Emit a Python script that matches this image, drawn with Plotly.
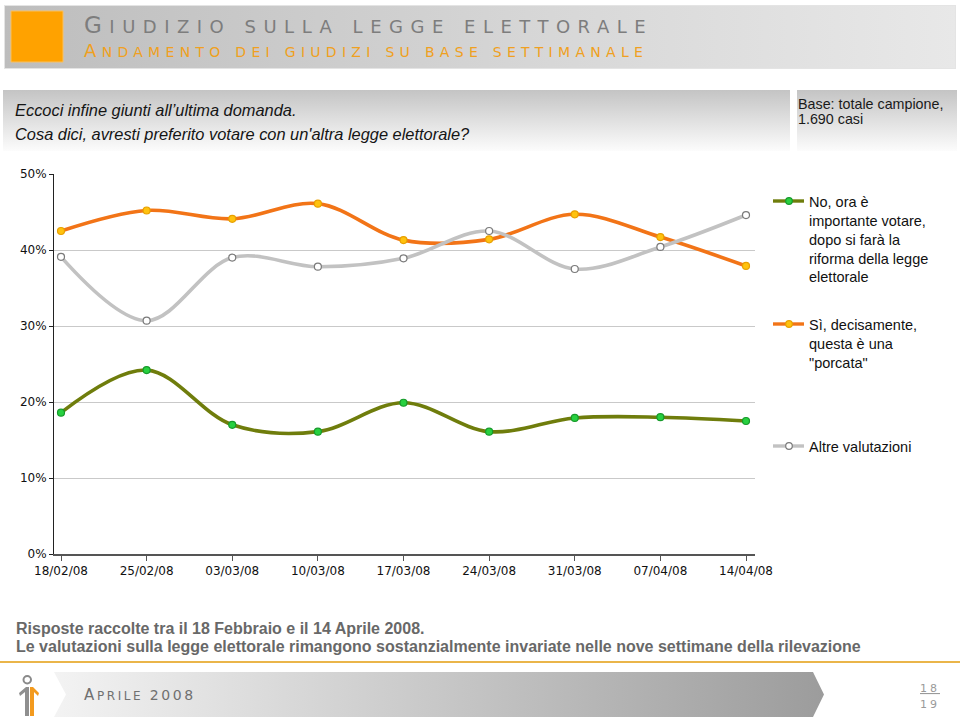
import base64
import plotly.graph_objects as go

W, H = 960, 721

# ---------------- data ----------------
dates = ["18/02/08", "25/02/08", "03/03/08", "10/03/08", "17/03/08",
         "24/03/08", "31/03/08", "07/04/08", "14/04/08"]
no_ora = [18.6, 24.2, 17.0, 16.1, 19.9, 16.1, 17.9, 18.0, 17.5]
si_porcata = [42.5, 45.2, 44.1, 46.1, 41.3, 41.4, 44.7, 41.7, 37.9]
altre = [39.1, 30.7, 39.0, 37.8, 38.9, 42.5, 37.5, 40.4, 44.6]
y_ticks = [0, 10, 20, 30, 40, 50]
y_tick_labels = ["0%", "10%", "20%", "30%", "40%", "50%"]

series_names = [
    "No, ora è<br>importante votare,<br>dopo si farà la<br>riforma della legge<br>elettorale",
    "Sì, decisamente,<br>questa è una<br>\"porcata\"",
    "Altre valutazioni",
]


def px(x):
    return x / W


def py(y):
    return 1 - y / H


def svg_uri(w, h, inner):
    s = (f'<svg xmlns="http://www.w3.org/2000/svg" width="{w}" height="{h}" '
         f'viewBox="0 0 {w} {h}" preserveAspectRatio="none">{inner}</svg>')
    return "data:image/svg+xml;base64," + base64.b64encode(s.encode()).decode()


def img(x0, y0, x1, y1, inner_fn):
    w, h = x1 - x0, y1 - y0
    return dict(source=svg_uri(w, h, inner_fn(w, h)), xref="paper", yref="paper",
                x=px(x0), y=py(y0), sizex=w / W, sizey=h / H,
                xanchor="left", yanchor="top", sizing="stretch", layer="below")


fig = go.Figure()

styles = [
    dict(line="#6f7d0c", mfill="#27d040", mline="#169a2a"),
    dict(line="#f27417", mfill="#ffc20e", mline="#e8a000"),
    dict(line="#c2c2c2", mfill="#ffffff", mline="#7a7a7a"),
]
for vals, st in zip([no_ora, si_porcata, altre], styles):
    fig.add_trace(go.Scatter(
        x=dates, y=vals, mode="lines+markers",
        line=dict(color=st["line"], width=3.6, shape="spline", smoothing=1.0),
        marker=dict(size=7, color=st["mfill"], line=dict(color=st["mline"], width=1.2)),
        showlegend=False, hoverinfo="skip"))

step = 85.625
fig.update_xaxes(type="category", range=[-7 / step, 8 + 9 / step],
                 domain=[px(54), px(755)], showgrid=False, zeroline=False,
                 showline=True, linecolor="#555555", linewidth=1.5,
                 ticks="outside", ticklen=5, tickcolor="#555555", tickwidth=1,
                 tickfont=dict(family="DejaVu Sans", size=12, color="#111111"),
                 automargin=False, fixedrange=True)
fig.update_yaxes(range=[0, 50], domain=[py(554), py(174)],
                 tickvals=y_ticks, ticktext=y_tick_labels,
                 showgrid=True, gridcolor="#c9c9c9", gridwidth=1, zeroline=False,
                 showline=True, linecolor="#222222", linewidth=1,
                 ticks="outside", ticklen=4, tickcolor="#222222",
                 tickfont=dict(family="DejaVu Sans", size=12, color="#111111"),
                 automargin=False, fixedrange=True)

shapes = []
annotations = []
images = []

# ---------- header banner ----------
images.append(img(4, 5, 956, 69, lambda w, h: (
    '<defs><linearGradient id="g" x1="0" y1="0" x2="1" y2="0">'
    '<stop offset="0" stop-color="#bdbdbd"/><stop offset="0.55" stop-color="#d6d6d6"/>'
    '<stop offset="1" stop-color="#e8e8e8"/></linearGradient></defs>'
    f'<rect x="0" y="0" width="{w}" height="{h}" fill="url(#g)" stroke="#e4e4e4" stroke-width="2"/>')))
shapes.append(dict(type="rect", xref="paper", yref="paper", x0=px(11), x1=px(63),
                   y0=py(62), y1=py(11), fillcolor="#ffa200",
                   line=dict(color="#f8c060", width=1), layer="below"))

ls1 = "letter-spacing:7.5px"
ls2 = "letter-spacing:5.3px"
title = (f'<span style="font-size:23px;{ls1}">G</span>'
         f'<span style="font-size:18px;{ls1}">IUDIZIO SULLA LEGGE ELETTORALE</span>')
subtitle = (f'<span style="font-size:18px;{ls2}">A</span>'
            f'<span style="font-size:14px;{ls2}">NDAMENTO DEI GIUDIZI SU BASE SETTIMANALE</span>')
annotations.append(dict(text=title, x=px(82), y=py(25), xref="paper", yref="paper",
                        xanchor="left", yanchor="middle", showarrow=False,
                        font=dict(family="DejaVu Sans", color="#7d7d7d")))
annotations.append(dict(text=subtitle, x=px(82), y=py(51), xref="paper", yref="paper",
                        xanchor="left", yanchor="middle", showarrow=False,
                        font=dict(family="DejaVu Sans", color="#f0a020")))

# ---------- question boxes ----------
vgrad = lambda w, h: (
    '<defs><linearGradient id="v" x1="0" y1="0" x2="0" y2="1">'
    '<stop offset="0" stop-color="#c4c4c4"/><stop offset="1" stop-color="#fcfcfc"/>'
    '</linearGradient></defs>'
    f'<rect x="0" y="0" width="{w}" height="{h}" fill="url(#v)"/>')
images.append(img(3, 90, 790, 151, vgrad))
images.append(img(797, 90, 957, 151, vgrad))

qfont = dict(family="Liberation Sans", size=16.4, color="#151515")
annotations.append(dict(text="<i>Eccoci infine giunti all’ultima domanda.</i>",
                        x=px(13), y=py(110), xref="paper", yref="paper",
                        xanchor="left", yanchor="middle", showarrow=False, font=qfont))
annotations.append(dict(text="<i>Cosa dici, avresti preferito votare con un'altra legge elettorale?</i>",
                        x=px(13), y=py(134), xref="paper", yref="paper",
                        xanchor="left", yanchor="middle", showarrow=False, font=qfont))
bfont = dict(family="Liberation Sans", size=14.3, color="#1a1a1a")
annotations.append(dict(text="Base: totale campione,", x=px(796), y=py(104),
                        xref="paper", yref="paper", xanchor="left", yanchor="middle",
                        showarrow=False, font=bfont))
annotations.append(dict(text="1.690 casi", x=px(796), y=py(119),
                        xref="paper", yref="paper", xanchor="left", yanchor="middle",
                        showarrow=False, font=bfont))

# ---------- legend (drawn) ----------
leg_y = [201, 324, 446]
for name, st, ly in zip(series_names, styles, leg_y):
    shapes.append(dict(type="line", xref="paper", yref="paper", x0=px(773), x1=px(804),
                       y0=py(ly), y1=py(ly), line=dict(color=st["line"], width=3.4)))
    shapes.append(dict(type="circle", xref="paper", yref="paper",
                       x0=px(789 - 3.3), x1=px(789 + 3.3), y0=py(ly + 3.3), y1=py(ly - 3.3),
                       fillcolor=st["mfill"], line=dict(color=st["mline"], width=1.2)))
    annotations.append(dict(text=name, x=px(807), y=py(ly - 9), xref="paper", yref="paper",
                            xanchor="left", yanchor="top", align="left", showarrow=False,
                            font=dict(family="Liberation Sans", size=14.5, color="#111111")))

# ---------- footer notes ----------
ffont = dict(family="Liberation Sans", size=16, color="#686868")
annotations.append(dict(text="<b>Risposte raccolte tra il 18 Febbraio e il 14 Aprile 2008.</b>",
                        x=px(14), y=py(628), xref="paper", yref="paper",
                        xanchor="left", yanchor="middle", showarrow=False, font=ffont))
annotations.append(dict(text="<b>Le valutazioni sulla legge elettorale rimangono sostanzialmente invariate nelle nove settimane della rilevazione</b>",
                        x=px(14), y=py(646), xref="paper", yref="paper",
                        xanchor="left", yanchor="middle", showarrow=False, font=ffont))

shapes.append(dict(type="line", xref="paper", yref="paper", x0=0, x1=1,
                   y0=py(662), y1=py(662), line=dict(color="#eab54a", width=2)))

# bottom arrow bar
images.append(img(54, 672, 824, 717, lambda w, h: (
    '<defs><linearGradient id="b" x1="0" y1="0" x2="1" y2="0">'
    '<stop offset="0" stop-color="#f3f3f3"/><stop offset="1" stop-color="#9c9c9c"/>'
    '</linearGradient></defs>'
    f'<polygon points="0,0 {w-11},0 {w},{h/2} {w-11},{h} 0,{h} 12,{h/2}" fill="url(#b)"/>')))

annotations.append(dict(
    text='<span style="font-size:15px;letter-spacing:2.6px">A</span>'
         '<span style="font-size:12px;letter-spacing:2.6px">PRILE </span>'
         '<span style="font-size:14px;letter-spacing:2.6px">2008</span>',
    x=px(82), y=py(695), xref="paper", yref="paper", xanchor="left", yanchor="middle",
    showarrow=False, font=dict(family="DejaVu Sans", color="#707070")))

# logo
shapes.append(dict(type="circle", xref="paper", yref="paper", x0=px(23.5), x1=px(31),
                   y0=py(683.5), y1=py(676), line=dict(color="#8a8a8a", width=2)))
shapes.append(dict(type="path", xref="paper", yref="paper",
                   path=f"M {px(19)},{py(693)} L {px(26)},{py(687)} L {px(29)},{py(687)} "
                        f"L {px(29)},{py(716)} L {px(25)},{py(716)} L {px(25)},{py(692)} "
                        f"L {px(20)},{py(696)} Z",
                   fillcolor="#8f8f8f", line=dict(width=0)))
shapes.append(dict(type="path", xref="paper", yref="paper",
                   path=f"M {px(30)},{py(687)} L {px(33)},{py(687)} L {px(39)},{py(693)} "
                        f"L {px(38)},{py(696)} L {px(34)},{py(692)} L {px(34)},{py(716)} "
                        f"L {px(30)},{py(716)} Z",
                   fillcolor="#f39a1e", line=dict(width=0)))

# page numbers
pfont = dict(family="DejaVu Sans", size=11, color="#9a9a9a")
annotations.append(dict(text='<span style="letter-spacing:3px"><u>18</u></span>',
                        x=px(918), y=py(688), xref="paper", yref="paper",
                        xanchor="left", yanchor="middle", showarrow=False, font=pfont))
annotations.append(dict(text='<span style="letter-spacing:3px">19</span>',
                        x=px(918), y=py(704), xref="paper", yref="paper",
                        xanchor="left", yanchor="middle", showarrow=False, font=pfont))

fig.update_layout(width=W, height=H, margin=dict(l=0, r=0, t=0, b=0),
                  paper_bgcolor="white", plot_bgcolor="white",
                  template="none", shapes=shapes, annotations=annotations, images=images)

fig.write_html("out.html", config={"displayModeBar": False},
               post_script="document.body.style.margin='0';document.body.style.overflow='hidden';")
